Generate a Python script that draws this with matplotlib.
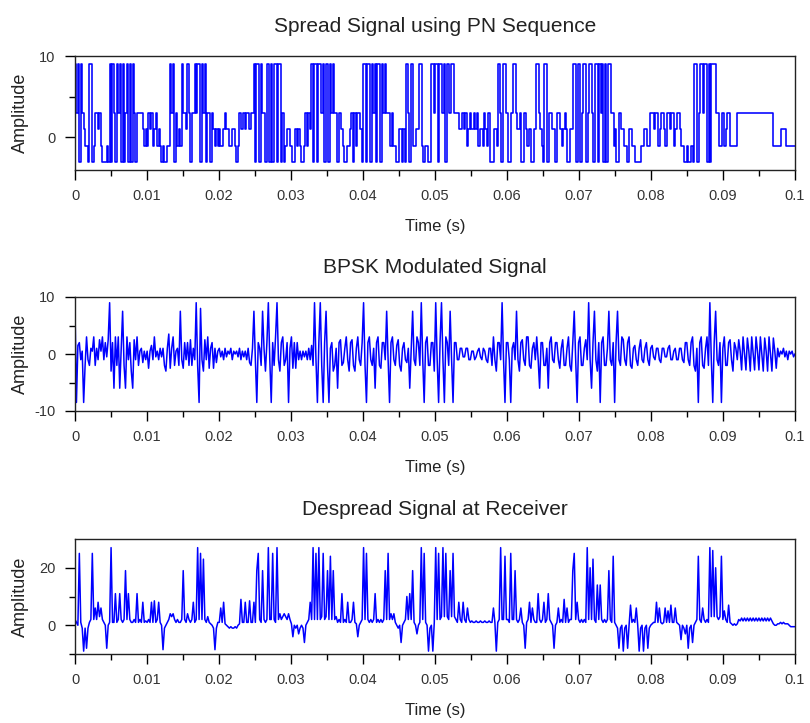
import numpy as np
import matplotlib
matplotlib.use("Agg")
import matplotlib.pyplot as plt
from matplotlib.ticker import MultipleLocator, FixedLocator

plt.rcParams['font.family'] = ['Liberation Sans', 'DejaVu Sans']
plt.rcParams['axes.unicode_minus'] = False

# sample spacing of the typed series (s)
dt = 0.0002

# spread signal (PN chips, one level per 0.2 ms)
spread_levels = [
    9, 3, 9, -3, 9, 3, 1, -1, -1, -3, 9, 9, -3, -1, 3, 3, 1, 3, -1, -3,
    -3, -3, -1, -3, 9, -3, 9, 3, -3, 9, 3, 9, -3, 9, -3, 3, 9, -3, 9, -3,
    9, 3, -3, 3, 3, 3, 3, 1, -1, 1, -1, 3, 1, 3, -1, 1, 3, -1, 1, -1,
    -3, -1, -3, -3, -1, -1, 9, 3, 9, -3, 3, -1, 1, -1, 9, 3, 3, 1, 9, 3,
    -3, 3, 3, 9, 3, 9, 9, -3, 9, 3, 9, -3, 3, 3, -3, 3, 1, -1, 1, -1,
    1, -1, -1, 1, 3, 1, 1, -1, -1, 1, 1, -1, -3, -1, 3, 1, 1, 3, 1, 3,
    3, 1, 3, 3, 9, -3, 9, 9, -3, 9, 3, 3, -3, 9, 9, -3, 9, -3, 9, 9,
    -3, 9, 9, -3, 3, -3, -1, 1, 1, -1, -1, -3, -3, 1, -1, 1, -1, -3, -3, -1,
    3, -1, 3, 1, 9, -3, 9, 9, -3, 9, 9, 3, 9, -3, 9, 9, -3, 9, 3, 9,
    3, 3, -3, 3, 3, 1, -1, -3, -3, -1, -1, 1, 3, -3, 3, -1, 3, 3, 1, -3,
    9, 9, -3, 9, 9, -3, 9, 3, 9, -3, 9, 9, -3, 9, 3, 9, 3, 3, 3, -1,
    3, -1, -1, -3, -3, 1, 1, -3, 1, -3, 9, 3, -3, 9, 9, -1, -1, 1, 1, 9,
    9, -1, -3, -1, -1, -3, -3, 9, 9, 3, 9, 9, -3, 9, 9, 3, 9, -3, 9, 9,
    3, 9, 9, 3, 3, 3, 3, 1, 1, 3, 1, 3, -1, 1, 3, 1, 1, 3, 1, 3,
    -1, 1, 1, -1, 3, 1, -1, 3, -3, -3, -3, 1, 1, -1, 9, 3, -3, 9, 9, 3,
    3, -3, -3, 3, 9, 9, 3, 1, 1, 3, -3, -3, 3, 1, -1, 1, 1, -3, -3, 1,
    9, 9, 3, 1, -1, -3, 9, 9, -3, 3, 3, 1, 1, -3, -3, 3, 3, 1, -1, 1,
    3, 1, -3, -3, 1, 1, 9, 9, -3, 9, 9, -3, 3, 9, 9, -3, 3, 9, 9, 3,
    -3, 9, 9, -3, 9, 3, 9, -3, 9, -3, 9, 9, 3, 3, -1, 1, -3, -3, 3, 1,
    1, -1, -1, -3, -3, 1, 1, -1, -1, -3, -3, -3, -3, -1, -1, 1, 1, -1, -1, 3,
    3, 3, 1, 3, 3, -1, 1, 3, 3, 1, -1, 3, 3, 1, 3, 3, -1, 1, 3, 3,
    1, -1, -1, -3, -3, -1, -3, -3, -1, -3, 9, 9, -3, 3, 9, 9, 3, 9, 9, -3,
    9, -3, 9, 9, 9, 3, 3, -1, -1, 3, 3, -1, 1, 3, 3, -1, -1, -1, -1, -1,
    3, 3, 3, 3, 3, 3, 3, 3, 3, 3, 3, 3, 3, 3, 3, 3, 3, 3, 3, 3,
    3, 3, 3, 3, 3, -1, -1, -1, -1, -1, 1, 1, 1, 1, -1, -1, -1, -1, -1, -1,
]

# BPSK modulated signal samples
bpsk_values = [
    8, -8.5, 1.5, 2, -1, 0.5, -8.5, -2, 3, -1, -2, 1, 0.5, 3, -2, 1, -1, 2.5, 0.5, 3,
    -1, 2, -0.5, 2.5, 9, -3, 2, -6, 3, -2, 3, -6, 1, 7.5, -2, -6, 3, -1, 2, -3,
    -6, 2.5, -1, 3, -2, 0.5, 1, -1.5, 0.5, -1, 0.5, -2.5, 0.5, 1.5, -1, 3, -0.5, 0.5, -1, 1,
    -0.5, 1, -2, -3, 1, 3.5, -2.5, 1, 3, -2, 0.5, 1, -2, 7.5, -1, -2.5, 2, -1, 2, -2,
    2.5, -2, 1, -1, 9, -2, -8.5, 8, -1, -3, 2.5, -1, 3, -2.5, 1, 2, -2.5, 1, -1.5, 0.5,
    1, -0.5, 0.5, -1, 1, -0.5, 0.5, 0, 1, -1, 0.5, 0, 0.5, -0.5, 1, -1, 0.5, -0.5, 0.5, -1,
    1, -1.5, -2, 1, 7.5, -1, -8.5, 2, 1, -2, 7.5, 1, -3, 2, 9, -1, -8.5, 2, -2, 3,
    9, -1, -3, 2, 3, -2, -1, 2, -8.5, 1, 3, -2.5, 2, -2.5, 2, -1, 0.5, -1, 0.5, -0.5,
    0.5, -1, 1, -1, 1.5, -2, 9, -1, -8.5, 2, 9, -2, -8.5, 2, 7.5, -2, -8.5, 1, 2, -3,
    -2, 1, -6, 2, 2.5, -2, -1.5, 1, 3, -1, -3, 2, 2.5, -2, -3, 1, 3, -1, -2, 2,
    9, -2, -8.5, 2, 3, -1, -2, 1, -6, 2, 3, -2, -2.5, 2, 2, -1, 7.5, -1, -8.5, 2,
    3, -1, -2, 1.5, 2.5, -2, -3, 1, 2, -1, -1.5, 1, -6, 1, 7.5, -1, -2, 3, 2, -2,
    9, -1, -8.5, 2, 3, -2, -2, 2, 2, -3, 9, -1, -8.5, 2, 9, -1, -8.5, 3, 2, -2,
    7.5, -1, -8.5, 2, 2, -1, -1, 1, 1, -0.5, -0.5, 1, 1, -1, -1, 0.5, 0.5, -1, -0.5, 0.5,
    1, -0.5, -1, 1, 0.5, -1, -1.5, 1, 1, -2, 3, -1, -3, 2, 2, -1, 9, -1, -8.5, 2,
    2, -1, -8.5, 1, 2, -1, 7.5, -1, -3, 2, 2.5, -1, -2, 3, 3, -2, -2.5, 1, 2, -1,
    3, -1, -6, 2, 2, -2, -2, 1, -6, 2, 3, -1, -1.5, 2, 2, -1, -2.5, 1, 2.5, -2,
    -2, 1, 3, -2, -3, 2, 7.5, -1, -8.5, 2, 3, -2, -2, 1, 2.5, -1, 9, -1, -6, 2,
    7.5, -1, -3, 2, -8.5, 2, 3, -2, -2, 1, 7.5, -1, -2, 2, -8.5, 2, 7.5, -1, -2, 3,
    2.5, -1, -2, 2, 3, -2, -2.5, 1, 1.5, -1, -2, 1, 2.5, -1, -1.5, 1, 2, -1, -2, 1,
    1.5, -0.5, -1, 1, 1, -1, -1.5, 1, 1, -0.5, -0.5, 1, 1.5, -1, -1, 0.5, 1, -1, -1, 1,
    1, -1, -1.5, 2, 2, -1, -2, 2, 3, -2, -3, 1, -8.5, 2, 3, -2, -2.5, 1, 3, -2,
    9, -1, -8.5, 2, 7.5, -1, -2, 2, -8.5, 1, 3, -2, -2, 2, 2.5, -1, -3, 2, 1, -1,
    2.5, 0.5, -2.8, 3, 0, -2.8, 2.8, 0.5, -3, 3, 0, -2.8, 3, 0.5, -2.8, 3, 0, -3, 2.8, 0.5,
    -3, 3, 0, -3, 2.8, 0.5, -2.5, 1, -0.5, 0.5, 0, 1, -0.5, 0.5, -1, 0.5, 0, 0.5, -0.5, 0,
]

# despread signal at the receiver
despread_values = [
    2, 1, 0, 25, 1, -1, -9, -1, -8, -1, 1, 2, 25, 2, 6, 2, 8, 3, 6, 2,
    1, 0, -8, 0, 1, 27, 1, 1, 11, 1, 2, 11, 2, 1, 2, 19, 2, 11, 2, 1,
    1, 2, 1, 11, 1, 2, 1, 8, 1, 1.5, 1, 2, 1, 8, 1, 8.5, 1, 2, 8, 1,
    0, -8.5, -1, 0, 1, 2, 4, 3, 4, 2, 1, 2, 1, 1, 2, 19, 2, 1, 4, 2,
    1, 2, 8, 1, 2, 27, 2, 25, 2, 23, 2, 1, 3, 1, 0.5, 0, -1, -8.5, -1, 1,
    1, 6, 1, 8, 0.5, 0, -0.5, -1, -0.5, -1, -1, -0.5, -1, 0, 0.5, 9, 1, 1, 8, 1,
    1, 8.5, 1, 1, 8, 1, 19, 25, 2, 1, 19, 2, 1, 2, 27, 2, 2, 25, 2, 1,
    27, 2, 4, 2, 3, 4, 3, 2, 4, 2, 0.5, -4, 0, -1, 0, -3, -1, 0, -1, -6,
    0, 1, 2, 8, 2, 27, 2, 25, 2, 27, 2, 3, 25, 2, 3, 19, 2, 24, 2, 19,
    2, 3, 1, 2, 1, 11, 1, 2, 1, 8, 1, 1, 2, 8, 1, 0.5, -4, 0, 1, 2,
    27, 2, 25, 2, 1, 2, 1, 2, 11, 1, 2, 1, 2, 1, 2, 19, 2, 25, 2, 4,
    2, 4, 1, 0, -1, 0, -6, 0, 1, 2, 10, 2, 11, 2, 19, 1, 0, -3, 0, 1,
    27, 2, 25, 1, 0, -9, -1, 0, -9, 1, 27, 2, 25, 2, 3, 27, 3, 25, 3, 2,
    19, 3, 25, 3, 2, 1, 8, 2, 1, 8, 2, 1, 6, 2, 1, 1.5, 1, 1, 1.5, 1,
    1, 1.5, 1, 1, 1.5, 1, 1, 1.5, 1, 1, 6, 1, -9, 1, 2, 27, 2, 2, 24, 2,
    2, 1, 25, 2, 2, 19, 2, 1, 2, 6, 1, 0, -8, 1, 2, 8, 1, 6, 2, 1,
    1, 11, 2, 1, 2, 8, 1, 2, 11, 2, 1, 0, -8, 0, 1, 6, 1, 2, 1, 9,
    1, 6, 1, 2, 2, 19, 25, 2, 8, 2, 1, 2, 1, 2, 1, 27, 2, 20, 2, 23,
    2, 1, 14, 2, 14, 2, 1, 2, 1, 2, 19, 2, 1, 24, 1, 0, -1, -8, -1, 0,
    -9, -1, 0, -8, 0, 7, 1, 2, 1, 6, 0, -9, -1, 0, -9, -1, 0, -8, -1, 0,
    0.5, 1, 1, 8, 1, 6, 1, 0.5, 1, 6, 1, 5, 1, 7, 1, 1, 6, 1, 0.5, 0,
    -5, 0, -1, -3, 0, -8, -1, 0, -6, 0, 1, 2, 24, 2, 1, 6, 2, 1, 2, 1,
    27, 3, 26, 3, 20, 3, 2, 3, 24, 2, 5, 2, 1, 7, 1, 0.5, 0, 0.5, 0, 0.5,
    2, 1.5, 2.5, 1.5, 2.5, 1.5, 2.5, 1.5, 2.5, 1.5, 2.5, 1.5, 2.5, 1.5, 2.5, 1.5, 2.5, 1.5, 2.5, 1.5,
    2.5, 1.5, 2.5, 1.5, 0.5, 0, 0, 0.5, 0.5, 1, 0.5, 1, 0.5, 0.5, 0.5, 0, -0.5, -0.5, -0.5, -0.5,
]

titles = ['Spread Signal using PN Sequence', 'BPSK Modulated Signal',
          'Despread Signal at Receiver']
xtick_vals = [0, 0.01, 0.02, 0.03, 0.04, 0.05, 0.06, 0.07, 0.08, 0.09, 0.1]
xtick_labels = ['0', '0.01', '0.02', '0.03', '0.04', '0.05',
                '0.06', '0.07', '0.08', '0.09', '0.1']
ylims = [(-4, 10), (-10, 10), (-10, 30)]
ymajor = [[0, 10], [-10, 0, 10], [0, 20]]
yminor = [[5], [-5, 5], [-10, 10]]

fig = plt.figure(figsize=(8.1, 7.23), dpi=100)
boxes = [
    [75 / 810, 1 - 170 / 723, 720 / 810, 114 / 723],
    [75 / 810, 1 - 411 / 723, 720 / 810, 114 / 723],
    [75 / 810, 1 - 654 / 723, 720 / 810, 115 / 723],
]

for k, box in enumerate(boxes):
    ax = fig.add_axes(box)
    if k == 0:
        lv = np.array(spread_levels + [spread_levels[-1]], dtype=float)
        t = np.arange(len(lv)) * dt
        ax.plot(t, lv, color='#0000ff', lw=1.15, drawstyle='steps-post')
    else:
        vals = np.array(bpsk_values if k == 1 else despread_values, dtype=float)
        t = np.linspace(0, 0.1, len(vals))
        ax.plot(t, vals, color='#0000ff', lw=1.1)

    ax.set_xlim(0, 0.1)
    ax.set_ylim(*ylims[k])
    ax.set_xticks(xtick_vals, xtick_labels)
    ax.xaxis.set_minor_locator(MultipleLocator(0.005))
    ax.yaxis.set_major_locator(FixedLocator(ymajor[k]))
    ax.yaxis.set_minor_locator(FixedLocator(yminor[k]))
    ax.tick_params(which='major', direction='out', length=7, width=1,
                   labelsize=10.5, labelcolor='#333333', pad=7)
    ax.tick_params(which='minor', direction='out', length=4, width=1)
    for s in ax.spines.values():
        s.set_linewidth(1)
        s.set_color('#222222')

    ax.set_title(titles[k], fontsize=15, color='#222222', pad=17)
    ax.set_xlabel('Time (s)', fontsize=12, color='#222222')
    ax.set_ylabel('Amplitude', fontsize=13, color='#222222')
    ax.xaxis.set_label_coords(0.5, -0.43)
    ax.yaxis.set_label_coords(-0.064, 0.5)

fig.savefig('out.png', dpi=100)
